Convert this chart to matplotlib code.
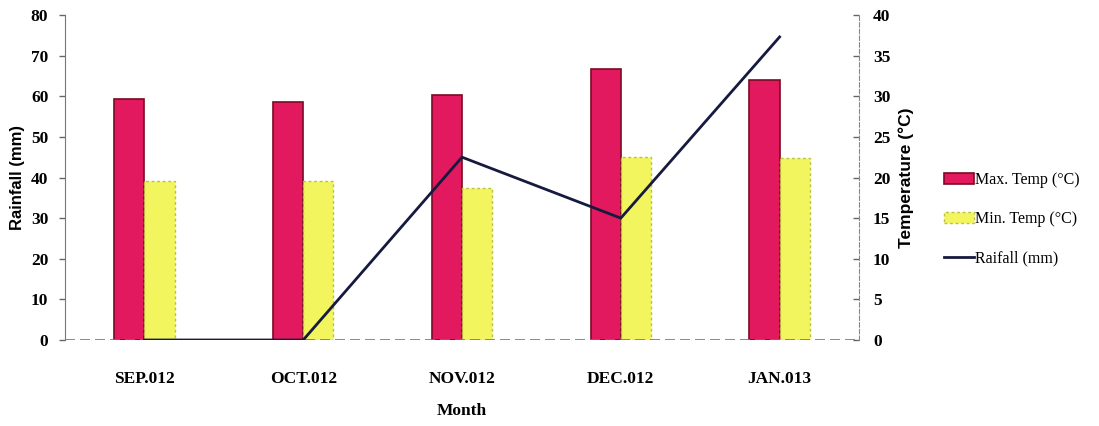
import matplotlib
matplotlib.use("Agg")
import matplotlib.pyplot as plt
import numpy as np

months = ["SEP.012", "OCT.012", "NOV.012", "DEC.012", "JAN.013"]
max_temp = [29.7, 29.3, 30.2, 33.4, 32.0]
min_temp = [19.6, 19.6, 18.7, 22.5, 22.4]
rainfall = [0.0, 0.0, 45.0, 30.0, 74.6]

serif = ["Liberation Serif", "DejaVu Serif"]
sans = ["Liberation Sans", "DejaVu Sans"]

fig = plt.figure(figsize=(10.99, 4.26), dpi=100)
ax = fig.add_axes([65/1099, 1-340/426, (859-65)/1099, (340-15)/426])
ax2 = ax.twinx()

x = np.arange(len(months))
w = 0.19
b1 = ax2.bar(x - w/2, max_temp, w, color="#E2195E", edgecolor="#7A0A22", linewidth=1.2,
             label="Max. Temp (°C)")
b2 = ax2.bar(x + w/2, min_temp, w, color="#F2F55E", edgecolor="#B9C23A", linewidth=1.0,
             linestyle=(0, (2, 2)), label="Min. Temp (°C)")
ln, = ax.plot(x, rainfall, color="#161A3E", linewidth=2.0, label="Raifall (mm)")

ax.set_zorder(ax2.get_zorder() + 1)
ax.patch.set_visible(False)

ax.set_xlim(-0.5, len(months) - 0.5)
ax.set_ylim(0, 80)
ax.set_yticks(np.arange(0, 81, 10))
ax2.set_ylim(0, 40)
ax2.set_yticks(np.arange(0, 41, 5))

ax.set_xticks(x)
ax.set_xticklabels(months, fontfamily=serif, fontweight="bold", fontsize=12.5)
for t in ax.get_yticklabels():
    t.set_fontfamily(serif); t.set_fontweight("bold"); t.set_fontsize(12.5)
for t in ax2.get_yticklabels():
    t.set_fontfamily(serif); t.set_fontweight("bold"); t.set_fontsize(12.5)

ax.tick_params(axis="x", length=0, pad=22)
ax.tick_params(axis="y", length=4, width=1, color="#666666", pad=8)
ax2.tick_params(axis="y", direction="in", length=4, width=1, color="#666666", pad=10)

for a in (ax, ax2):
    a.spines["top"].set_visible(False)
    a.spines["bottom"].set_visible(False)
ax.spines["left"].set_color("#777777")
ax.spines["right"].set_visible(False)
ax2.spines["left"].set_visible(False)
ax2.spines["right"].set_color("#888888")
ax2.spines["right"].set_linestyle((0, (4, 2)))
ax.axhline(0, color="#777777", linewidth=1.2, linestyle=(0, (6, 3)), zorder=0)

ax.set_ylabel("Rainfall (mm)", fontfamily=sans, fontweight="bold", fontsize=12, labelpad=4)
ax2.set_ylabel("Temperature (°C)", fontfamily=sans, fontweight="bold", fontsize=12.5, labelpad=6)
ax.set_xlabel("Month", fontfamily=serif, fontweight="bold", fontsize=12.5, labelpad=12)

fig.legend([b1, b2, ln], ["Max. Temp (°C)", "Min. Temp (°C)", "Raifall (mm)"],
           loc="center left", bbox_to_anchor=(944/1099, 1-219/426), frameon=False,
           prop={"family": serif, "size": 11.5}, handlelength=1.9, handletextpad=0.05,
           labelspacing=1.45, borderaxespad=0, borderpad=0)

fig.savefig("out.png", dpi=100)
